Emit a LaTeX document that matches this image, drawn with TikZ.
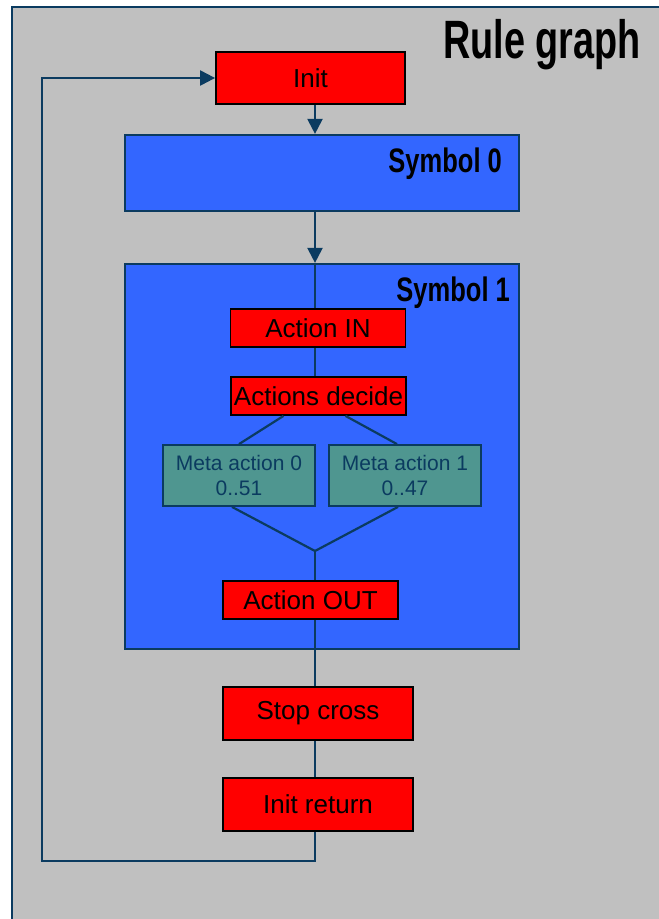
\documentclass[tikz,border=0pt]{standalone}
\usepackage{fontspec}
\setmainfont{Liberation Sans}
\usetikzlibrary{arrows.meta}
\definecolor{bg}{HTML}{C0C0C0}
\definecolor{dblue}{HTML}{0B3B60}
\definecolor{symblue}{HTML}{3366FF}
\definecolor{metateal}{HTML}{4F9690}
\begin{document}
\begin{tikzpicture}[x=1pt,y=-1pt,
  conn/.style={draw=dblue,line width=2.2pt},
  arr/.style={conn,-{Triangle[length=15pt,width=15pt]}},
  actbox/.style={draw=black,line width=1.8pt,fill=red,inner sep=0pt,
    font=\fontsize{26}{28}\selectfont},
  symbox/.style={draw=dblue,line width=2.2pt,fill=symblue,inner sep=0pt},
  metabox/.style={draw=dblue,line width=1.8pt,fill=metateal,inner sep=0pt,
    minimum width=152pt,minimum height=61pt,align=center,text=dblue,
    font=\fontsize{21}{25}\selectfont},
  symlabel/.style={font=\fontsize{34}{36}\selectfont\bfseries,xscale=0.75,inner sep=0pt,anchor=east}
]
\useasboundingbox (0,0) rectangle (659,919);
\clip (0,0) rectangle (659,919);
\fill[white] (0,0) rectangle (659,919);
\draw[draw=dblue,line width=2.2pt,fill=bg] (12,7) rectangle (690,950);
\node[font=\fontsize{54}{56}\selectfont\bfseries,xscale=0.70,inner sep=0pt,anchor=east] (title) at (641,45) {Rule graph};

\coordinate (spine) at (315,0);
\node[actbox,minimum width=189pt,minimum height=52pt] (init) at (310.5,78) {Init};
\node[symbox,minimum width=394pt,minimum height=76pt] (sym0) at (322,173) {};
\node[symlabel] (sym0lab) at (502,164) {Symbol 0};
\node[symbox,minimum width=394pt,minimum height=385pt] (sym1) at (322,456.5) {};
\node[symlabel] (sym1lab) at (510,293) {Symbol 1};
\node[actbox,minimum width=175pt,minimum height=38pt] (actin) at (318,328) {Action IN};
\node[actbox,minimum width=175pt,minimum height=38pt] (actdec) at (318.5,396) {Actions decide};
\node[metabox] (meta0) at (239,475.5) {Meta action 0\\0..51};
\node[metabox] (meta1) at (405,475.5) {Meta action 1\\0..47};
\coordinate (junc) at (315,551);
\node[actbox,minimum width=175pt,minimum height=38pt] (actout) at (310.5,600) {Action OUT};
\node[actbox,minimum width=190pt,minimum height=53pt] (stop) at (318,713.5) {Stop cross};
\node[actbox,minimum width=190pt,minimum height=53pt] (initret) at (318,804.5) {Init return};
\coordinate (lb) at (42,861);

\draw[arr] (init.south -| spine) -- (sym0.north -| spine);
\draw[arr] (sym0.south -| spine) -- (sym1.north -| spine);
\draw[conn] (sym1.north -| spine) -- (actin.north -| spine);
\draw[conn] (actin.south -| spine) -- (actdec.north -| spine);
\draw[conn] ([xshift=-35pt]actdec.south) -- (meta0.north);
\draw[conn] ([xshift=27pt]actdec.south) -- ([xshift=-8pt]meta1.north);
\draw[conn] ([xshift=-7pt]meta0.south) -- (junc);
\draw[conn] ([xshift=-7pt]meta1.south) -- (junc);
\draw[conn] (junc) -- (actout.north -| spine);
\draw[conn] (actout.south -| spine) -- (stop.north -| spine);
\draw[conn] (stop.south -| spine) -- (initret.north -| spine);
\draw[arr] (initret.south -| spine) |- (lb) |- (init.west);
\end{tikzpicture}
\end{document}
